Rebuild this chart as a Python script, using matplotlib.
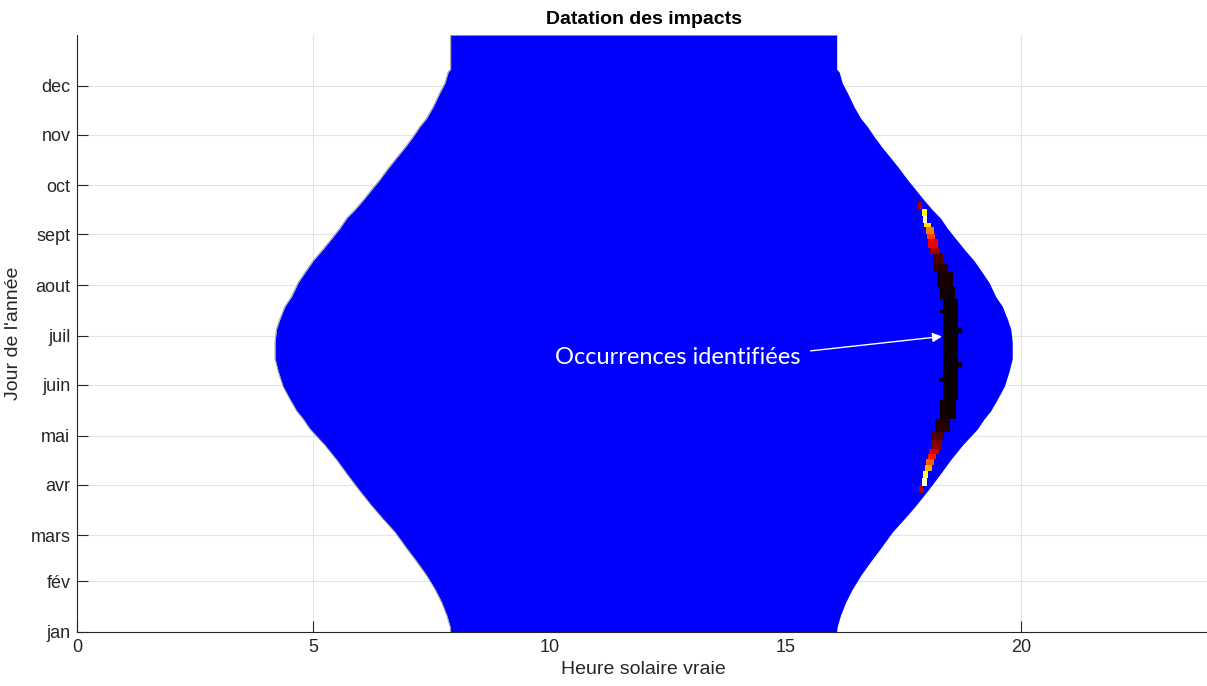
import matplotlib
matplotlib.use("Agg")
import matplotlib.pyplot as plt

# ---- data ----
month_labels = ["jan", "fév", "mars", "avr", "mai", "juin", "juil", "aout",
                "sept", "oct", "nov", "dec"]
month_days = [1, 32, 60, 91, 121, 152, 182, 213, 244, 274, 305, 335]
x_ticks = [0, 5, 10, 15, 20]

# boundary of the daylight (blue) area: day of year, sunrise hour, sunset hour
edge_days = [1, 4, 11, 19, 27, 35.5, 44, 52, 62, 70, 78, 87, 96.5, 106, 115,
             125, 131, 136, 143, 151, 160, 168, 178, 186, 192, 200, 206,
             214.5, 220.5, 228, 234, 240, 248, 254, 259, 265, 271.5, 277.5,
             284.5, 291, 297, 304, 310, 315, 322, 330.5, 336.5, 343.5, 345, 366]
sunrise = [7.91, 7.90, 7.83, 7.72, 7.58, 7.40, 7.19, 6.98, 6.73, 6.48, 6.24,
           5.99, 5.74, 5.50, 5.25, 4.93, 4.79, 4.65, 4.51, 4.36, 4.26, 4.19,
           4.19, 4.22, 4.29, 4.40, 4.54, 4.68, 4.82, 5.00, 5.18, 5.35, 5.57,
           5.71, 5.88, 6.06, 6.24, 6.41, 6.59, 6.77, 6.94, 7.12, 7.26, 7.40,
           7.54, 7.68, 7.79, 7.86, 7.91, 7.91]
sunset = [16.09, 16.10, 16.17, 16.28, 16.42, 16.60, 16.81, 17.02, 17.27,
          17.52, 17.76, 18.01, 18.26, 18.50, 18.75, 19.07, 19.21, 19.35,
          19.49, 19.64, 19.74, 19.81, 19.81, 19.78, 19.71, 19.60, 19.46,
          19.32, 19.18, 19.00, 18.82, 18.65, 18.43, 18.29, 18.12, 17.94,
          17.76, 17.59, 17.41, 17.23, 17.06, 16.88, 16.74, 16.60, 16.46,
          16.32, 16.21, 16.14, 16.09, 16.09]

# identified occurrences: day range, hour range, normalised count (hot colormap)
occ_day_start = [86, 90, 95, 99.6, 103, 106.7, 110, 113, 118, 123, 131, 143,
                 204.3, 212, 220.8, 226, 231.8, 236, 241, 244, 248.3, 251.3,
                 255, 259.7,
                 184, 163, 196, 154]
occ_day_end = [90, 95, 99.6, 103, 106.7, 110, 113, 118, 123, 131, 143, 204.3,
               212, 220.8, 226, 231.8, 236, 241, 244, 248.3, 251.3, 255,
               259.7, 263.9,
               187, 166, 198, 156]
occ_h_start = [17.83, 17.90, 17.92, 17.96, 17.98, 18.02, 18.05, 18.09, 18.12,
               18.17, 18.28, 18.35,
               18.28, 18.22, 18.16, 18.13, 18.06, 18.02, 18.00, 17.99, 17.95,
               17.91, 17.90, 17.82,
               18.66, 18.66, 18.28, 18.26]
occ_h_end = [17.92, 18.00, 18.02, 18.10, 18.15, 18.20, 18.25, 18.32, 18.36,
             18.49, 18.62, 18.66,
             18.60, 18.55, 18.45, 18.35, 18.25, 18.23, 18.17, 18.15, 18.09,
             18.01, 18.00, 17.90,
             18.74, 18.74, 18.35, 18.35]
occ_value = [0.25, 0.95, 0.80, 0.62, 0.50, 0.40, 0.30, 0.18, 0.10, 0.04, 0.01,
             0.0,
             0.01, 0.02, 0.05, 0.10, 0.22, 0.35, 0.45, 0.55, 0.70, 0.95, 0.78,
             0.25,
             0.0, 0.0, 0.0, 0.0]

title_text = "Datation des impacts"
x_label = "Heure solaire vraie"
y_label = "Jour de l'année"
annot_text = "Occurrences identifiées"

# ---- figure ----
W, H = 1207, 686
fig = plt.figure(figsize=(W / 100, H / 100), dpi=100)
ax = fig.add_axes([77.3 / W, (H - 631.7) / H, (1210 - 77.3) / W, (631.7 - 35) / H])

txt_col = "#262626"
ax.fill_betweenx(edge_days, sunrise, sunset, color=(0, 0, 1), lw=0, zorder=2)
ax.plot(sunrise, edge_days, color="#9a9a9a", lw=0.7, zorder=2.5)

hot = matplotlib.colormaps["hot"]
ax.barh(occ_day_start,
        [e - s for s, e in zip(occ_h_start, occ_h_end)],
        height=[e - s for s, e in zip(occ_day_start, occ_day_end)],
        left=occ_h_start, align="edge",
        color=[hot(v) for v in occ_value], lw=0, zorder=3)

ax.annotate("", xy=(18.38, 181.8), xytext=(15.48, 172.6),
            arrowprops=dict(arrowstyle="-|>", color="white", lw=1.0,
                            mutation_scale=14), zorder=5)
ax.text(10.13, 168.5, annot_text, color="white", fontsize=17,
        family=["Lato", "DejaVu Sans"], ha="left", va="center", zorder=5)

ax.set_xlim(0, 24)
ax.set_ylim(1, 366)
ax.set_xticks(x_ticks)
ax.set_yticks(month_days)
ax.set_yticklabels(month_labels)

fam = ["Liberation Sans", "DejaVu Sans"]
for lab in ax.get_xticklabels() + ax.get_yticklabels():
    lab.set_family(fam)
    lab.set_fontsize(13)
    lab.set_color(txt_col)

ax.tick_params(direction="in", length=8, width=0.8, color=txt_col, pad=5)
ax.grid(True, color="#e3e3e3", lw=0.8, zorder=0)
ax.set_axisbelow(True)
for s in ["top", "right"]:
    ax.spines[s].set_visible(False)
for s in ["left", "bottom"]:
    ax.spines[s].set_color(txt_col)
    ax.spines[s].set_linewidth(0.8)

ax.set_title(title_text, fontsize=14, fontweight="bold", family=fam,
             color="black", pad=8)
ax.set_xlabel(x_label, fontsize=14, family=fam, color=txt_col, labelpad=4)
ax.set_ylabel(y_label, fontsize=14, family=fam, color=txt_col, labelpad=6)

fig.savefig("out.png", dpi=100)
